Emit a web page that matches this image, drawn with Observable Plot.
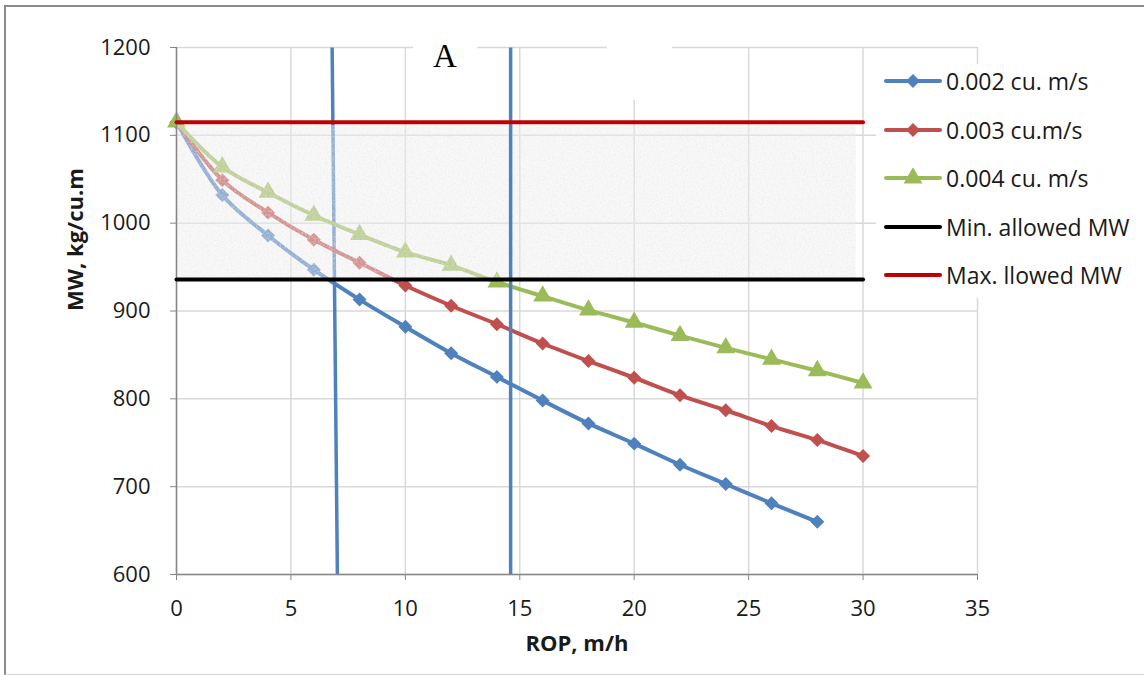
<!DOCTYPE html>
<html><head><meta charset="utf-8">
<script src="https://cdn.jsdelivr.net/npm/d3@7"></script>
<script src="https://cdn.jsdelivr.net/npm/@observablehq/plot@0.6"></script>
<style>
body{margin:0;background:#fff;}
#wrap{position:relative;width:1144px;height:675px;overflow:hidden;font-family:"Open Sans",sans-serif;color:#1a1a1a;background:#fff;}
#border{position:absolute;left:4px;top:5px;width:1160px;height:667px;border-left:2px solid #8a8a8a;border-top:2px solid #8a8a8a;border-bottom:1px solid #d4d4d4;pointer-events:none;}
.mask{position:absolute;background:#fff;}
#title{position:absolute;left:413px;top:36px;width:64px;text-align:center;font-family:"Liberation Serif","DejaVu Serif",serif;font-size:33px;line-height:40px;color:#000;}
#legend{position:absolute;left:876px;top:64px;width:268px;height:234px;background:#fff;}
.lrow{position:absolute;left:0;height:30px;display:flex;align-items:center;white-space:nowrap;font-size:23px;color:#1a1a1a;}
.lrow svg{margin-left:8px;margin-right:4px;}
</style></head><body>
<div id="wrap"></div>
<script>
// ---- data ----
const rop = [0,2,4,6,8,10,12,14,16,18,20,22,24,26,28,30];
const mw002 = [1115,1032,986,947,913,882,852,825,798,772,749,725,703,681,660];
const mw003 = [1115,1049,1012,981,955,929,906,885,863,843,824,804,787,769,753,735];
const mw004 = [1115,1064,1035,1009,987,967,952,933,917,901,887,872,858,845,832,818];
const seriesNames = ["0.002 cu. m/s","0.003 cu.m/s","0.004 cu. m/s"];
const seriesColors = ["#4F81BD","#C0504D","#9BBB59"];
const seriesSymbols = ["diamond2","diamond2","triangle"];
const minMW = 936, maxMW = 1115;
const limitX = [0,30];
const limitNames = ["Min. allowed MW","Max. llowed MW"];
const limitColors = ["#000000","#C00000"];
// vertical guide lines (ROP at top, ROP at bottom)
const guideA = {x1:6.8, y1:1200, x2:7.03, y2:600};
const guideB = {x1:14.6, y1:1200, x2:14.6, y2:600};
// shaded window
const windowBox = {x1:0, x2:29.7, y1:minMW, y2:1111};
const xTicks = [0,5,10,15,20,25,30,35];
const yTicks = [600,700,800,900,1000,1100,1200];
const xLabel = "ROP, m/h", yLabel = "MW, kg/cu.m";
const titleText = "A";

const series = [mw002, mw003, mw004].map((vals,i)=>vals.map((v,j)=>({x:rop[j], y:v, s:seriesNames[i]})));
const limits = [minMW, maxMW].map((v,i)=>limitX.map(x=>({x, y:v, s:limitNames[i]})));
const symR = s => s==="triangle" ? 7 : 6.3;

const lineMarks = [];
series.forEach((d,i)=>{
  lineMarks.push(Plot.line(d,{x:"x",y:"y",stroke:seriesColors[i],strokeWidth:4,curve:"catmull-rom"}));
  lineMarks.push(Plot.dot(d,{x:"x",y:"y",fill:seriesColors[i],symbol:seriesSymbols[i],r:symR(seriesSymbols[i]),stroke:"none"}));
});

const plot = Plot.plot({
  width:1144, height:675,
  marginLeft:176, marginRight:167, marginTop:47, marginBottom:101,
  x:{domain:[0,35]},
  y:{domain:[600,1200]},
  style:{fontFamily:"'Open Sans', sans-serif", fontSize:"21px", color:"#1a1a1a", background:"transparent"},
  marks:[
    Plot.gridX(xTicks,{stroke:"#d9d9d9",strokeOpacity:1,strokeWidth:1.5}),
    Plot.gridY(yTicks,{stroke:"#d9d9d9",strokeOpacity:1,strokeWidth:1.5}),
    Plot.link([guideA],{x1:"x1",y1:"y1",x2:"x2",y2:"y2",stroke:"#4F81BD",strokeWidth:3.5}),
    ...lineMarks,
    Plot.rect([windowBox],{x1:"x1",x2:"x2",y1:"y1",y2:"y2",fill:"#eeeeee",fillOpacity:0.42}),
    Plot.rect([windowBox],{x1:"x1",x2:"x2",y1:"y1",y2:"y2",fill:"#fffffe"}),
    Plot.link([guideB],{x1:"x1",y1:"y1",x2:"x2",y2:"y2",stroke:"#4F81BD",strokeWidth:3.5}),
    Plot.ruleX([0],{stroke:"#868686",strokeWidth:1.5}),
    Plot.ruleY([600],{stroke:"#868686",strokeWidth:1.5}),
    Plot.line(limits[1],{x:"x",y:"y",stroke:limitColors[1],strokeWidth:4}),
    Plot.line(limits[0],{x:"x",y:"y",stroke:limitColors[0],strokeWidth:4}),
    Plot.axisX({ticks:xTicks,tickSize:6,tickPadding:20,stroke:"#868686",label:null,fontSize:22}),
    Plot.axisY({ticks:yTicks,tickSize:6,tickPadding:20,stroke:"#868686",label:null,fontSize:22,tickFormat:d=>String(d)}),
    Plot.text([xLabel],{frameAnchor:"bottom",dy:76,fontWeight:"bold",fontSize:22,text:d=>d}),
    Plot.text([yLabel],{frameAnchor:"left",dx:-101,rotate:-90,fontWeight:"bold",fontSize:22,text:d=>d})
  ]
});

// speckle texture for the shaded window
const svgSel = d3.select(plot.tagName.toLowerCase()==="svg" ? plot : plot.querySelector("svg"));
const defs = svgSel.insert("defs",":first-child");
const f = defs.append("filter").attr("id","speckle").attr("filterUnits","userSpaceOnUse")
  .attr("x",0).attr("y",0).attr("width",1144).attr("height",675);
f.append("feTurbulence").attr("type","fractalNoise").attr("baseFrequency",0.55).attr("numOctaves",2).attr("seed",4).attr("result","n");
f.append("feColorMatrix").attr("in","n").attr("type","matrix")
  .attr("values","0 0 0 0 0.8  0 0 0 0 0.8  0 0 0 0 0.8  1.3 0 0 0 -0.55").attr("result","g");
f.append("feComposite").attr("in","g").attr("in2","SourceGraphic").attr("operator","in");
svgSel.selectAll("g, rect").filter(function(){return this.getAttribute("fill")==="#fffffe";}).attr("filter","url(#speckle)");

const wrap = document.getElementById("wrap");
wrap.appendChild(plot);

// title masks and title
const m1 = document.createElement("div"); m1.className="mask";
Object.assign(m1.style,{left:"413px",top:"38px",width:"64px",height:"62px"});
const m2 = document.createElement("div"); m2.className="mask";
Object.assign(m2.style,{left:"607px",top:"38px",width:"65px",height:"62px"});
wrap.appendChild(m1); wrap.appendChild(m2);
const t = document.createElement("div"); t.id="title"; t.textContent=titleText; wrap.appendChild(t);

// legend
const leg = document.createElement("div"); leg.id="legend"; wrap.appendChild(leg);
const entries = seriesNames.map((n,i)=>({name:n,color:seriesColors[i],symbol:seriesSymbols[i]}))
  .concat([{name:limitNames[0],color:limitColors[0]},{name:limitNames[1],color:limitColors[1]}]);
const symMap = {diamond2:d3.symbolDiamond2, triangle:d3.symbolTriangle};
entries.forEach((e,i)=>{
  const row = document.createElement("div"); row.className="lrow";
  row.style.top = (2 + i*48.6) + "px";
  const svg = d3.create("svg").attr("width",58).attr("height",20);
  svg.append("line").attr("x1",2).attr("x2",56).attr("y1",10).attr("y2",10)
    .attr("stroke",e.color).attr("stroke-width",4).attr("stroke-linecap","round");
  if (e.symbol) {
    const r = symR(e.symbol);
    svg.append("path").attr("d",d3.symbol(symMap[e.symbol], Math.PI*r*r)()).attr("transform","translate(29,10)").attr("fill",e.color);
  }
  row.appendChild(svg.node());
  const sp = document.createElement("span"); sp.textContent=e.name; row.appendChild(sp);
  leg.appendChild(row);
});

const b = document.createElement("div"); b.id="border"; wrap.appendChild(b);
</script>
</body></html>
